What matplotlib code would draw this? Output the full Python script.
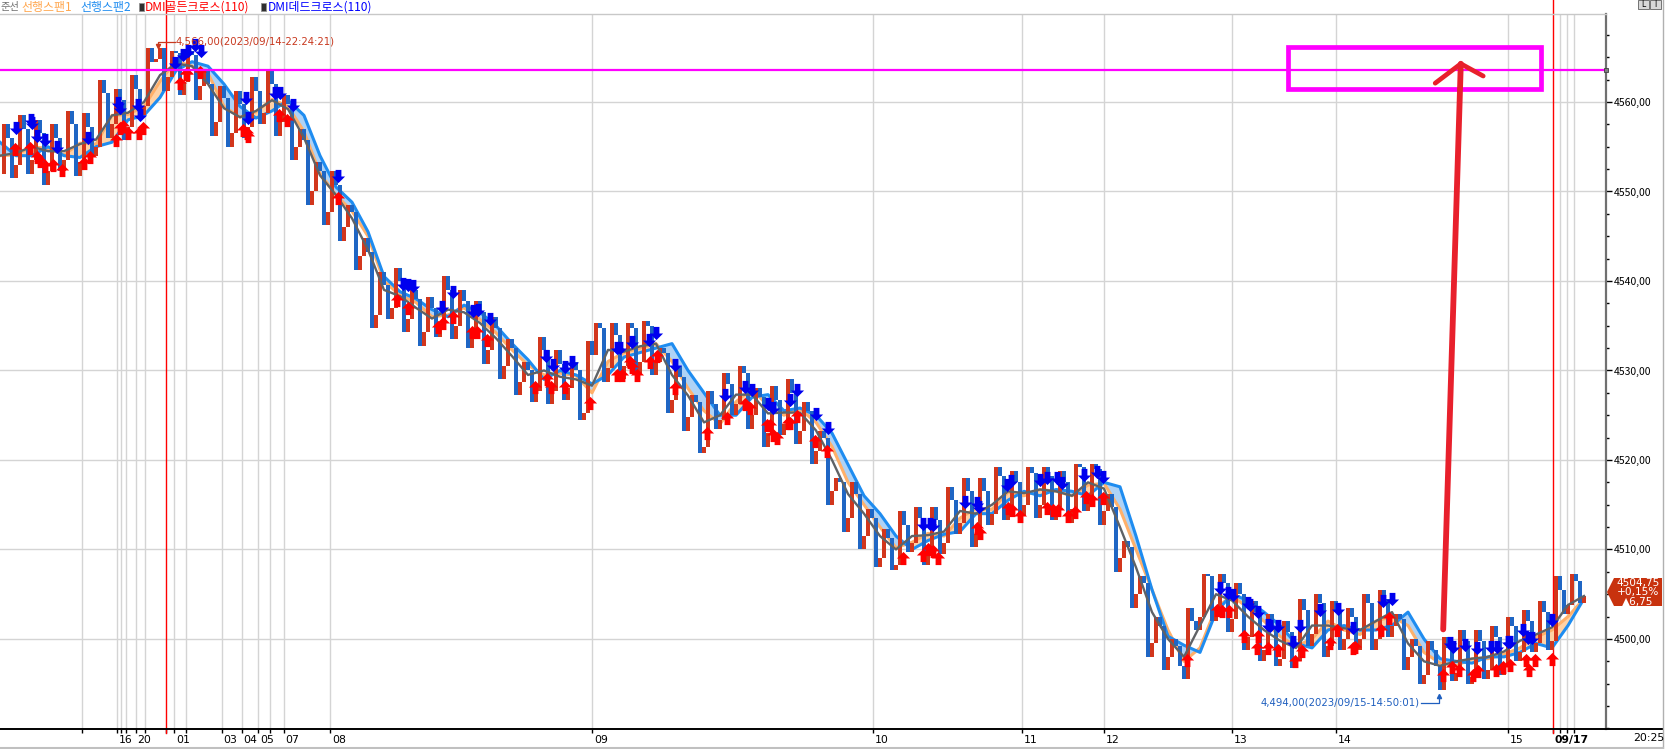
import numpy as np
import matplotlib.pyplot as plt
import matplotlib.transforms as mtransforms
from matplotlib.path import Path
from matplotlib.patches import Rectangle, Polygon
from matplotlib.lines import Line2D
from matplotlib.ticker import MultipleLocator, FuncFormatter

plt.rcParams['font.family'] = ['Noto Sans CJK KR', 'DejaVu Sans']

# closes, one bar every 8 px of the original screen
close = [
    4552.0, 4556.0, 4553.0, 4557.0, 4553.5, 4556.5, 4552.25, 4556.0, 4553.5, 4557.5,
    4553.25, 4557.25, 4555.0, 4561.0, 4557.5, 4560.25, 4557.25, 4561.5, 4559.5, 4564.5,
    4566.0, 4562.75, 4565.5, 4562.25, 4565.25, 4561.75, 4562.0, 4557.75, 4560.5, 4556.5,
    4559.75, 4557.25, 4561.25, 4558.75, 4562.0, 4557.75, 4559.75, 4555.0, 4555.75, 4550.0,
    4552.25, 4547.75, 4550.75, 4546.0, 4547.75, 4542.75, 4543.25, 4536.25, 4539.5, 4537.0,
    4540.0, 4535.75, 4538.0, 4534.25, 4537.0, 4534.75, 4539.0, 4535.0, 4537.75, 4534.0,
    4536.5, 4532.25, 4534.75, 4530.5, 4532.5, 4528.75, 4530.0, 4527.75, 4532.25, 4527.75,
    4530.75, 4528.0, 4530.0, 4525.25, 4531.75, 4534.75, 4530.25, 4534.0, 4530.5, 4534.75,
    4531.0, 4535.0, 4531.0, 4532.0, 4526.75, 4529.25, 4524.75, 4526.5, 4521.5, 4526.25,
    4524.5, 4528.5, 4526.25, 4529.75, 4525.0, 4527.0, 4523.0, 4526.75, 4524.0, 4527.5,
    4523.25, 4525.5, 4521.0, 4522.5, 4516.5, 4517.5, 4513.5, 4516.25, 4511.5, 4513.5,
    4509.0, 4511.25, 4508.25, 4512.75, 4510.75, 4513.5, 4509.75, 4513.25, 4510.75, 4515.5,
    4513.0, 4516.5, 4511.75, 4516.5, 4514.0, 4518.25, 4514.75, 4517.5, 4515.0, 4518.5,
    4515.0, 4518.25, 4514.75, 4517.5, 4514.5, 4519.25, 4515.75, 4519.0, 4514.25, 4514.75,
    4509.0, 4510.25, 4505.0, 4506.25, 4499.5, 4501.5, 4498.0, 4499.25, 4495.5, 4502.0,
    4502.5, 4507.0, 4503.5, 4506.25, 4502.25, 4505.0, 4500.25, 4503.0, 4498.75, 4501.5,
    4497.75, 4500.75, 4497.5, 4503.25, 4500.5, 4504.0, 4499.25, 4503.0, 4500.0, 4502.5,
    4500.0, 4504.0, 4500.0, 4504.5, 4501.5, 4502.25, 4498.0, 4499.25, 4496.0, 4498.75,
    4494.25, 4499.0, 4496.25, 4499.75, 4495.75, 4499.75, 4496.5, 4500.25, 4497.0, 4501.5,
    4498.5, 4502.0, 4499.5, 4503.0, 4499.75, 4505.5, 4503.75, 4506.5, 4504.75,
]
# closes of the bars that fall between the ones above (4 px later)
close_mid = [
    4557.5, 4551.5, 4558.5, 4552.0, 4558.0, 4550.75, 4557.5, 4552.25, 4559.0, 4551.75,
    4558.75, 4554.0, 4562.5, 4556.0, 4561.5, 4555.75, 4563.0, 4558.5, 4566.0, 4564.75,
    4561.25, 4565.75, 4560.75, 4565.75, 4560.25, 4563.5, 4556.25, 4561.75, 4555.0, 4561.25,
    4556.0, 4562.75, 4557.5, 4563.5, 4556.25, 4560.75, 4553.5, 4557.0, 4548.5, 4553.25,
    4546.25, 4552.25, 4544.5, 4548.5, 4541.25, 4544.75, 4534.75, 4541.0, 4535.75, 4541.5,
    4534.25, 4539.0, 4532.75, 4538.25, 4533.75, 4540.5, 4533.5, 4539.0, 4532.5, 4537.75,
    4530.75, 4536.0, 4529.0, 4533.5, 4527.25, 4531.0, 4526.5, 4533.75, 4526.25, 4532.25,
    4526.75, 4531.0, 4524.5, 4533.25, 4535.25, 4528.75, 4535.25, 4529.0, 4535.25, 4529.5,
    4535.5, 4529.5, 4532.5, 4525.25, 4530.5, 4523.25, 4527.25, 4520.75, 4527.75, 4523.5,
    4529.75, 4525.0, 4530.5, 4523.5, 4528.0, 4521.5, 4528.25, 4522.75, 4529.0, 4521.75,
    4526.5, 4519.5, 4523.25, 4515.0, 4518.0, 4512.0, 4517.5, 4510.0, 4514.5, 4508.0,
    4512.25, 4507.75, 4514.25, 4509.75, 4514.75, 4508.25, 4514.75, 4509.5, 4517.0, 4511.75,
    4518.0, 4510.25, 4518.0, 4512.75, 4519.25, 4513.25, 4518.75, 4513.75, 4519.25, 4513.5,
    4519.25, 4513.25, 4518.75, 4513.0, 4519.5, 4514.25, 4519.5, 4512.75, 4516.25, 4507.5,
    4511.0, 4503.5, 4507.0, 4498.0, 4502.5, 4496.5, 4500.0, 4497.0, 4503.5, 4501.0,
    4507.25, 4502.0, 4507.25, 4500.75, 4506.25, 4498.75, 4504.25, 4497.5, 4502.75, 4497.0,
    4502.0, 4496.75, 4504.5, 4499.25, 4505.0, 4498.0, 4504.25, 4498.75, 4503.5, 4498.75,
    4505.0, 4498.75, 4505.5, 4500.25, 4502.75, 4496.5, 4500.0, 4495.0, 4499.75, 4497.0,
    4500.25, 4495.25, 4501.0, 4495.0, 4501.0, 4495.5, 4501.5, 4496.0, 4502.5, 4497.5,
    4503.25, 4498.5, 4504.25, 4498.75, 4507.0, 4502.75, 4507.25, 4504.0,
]

# indicator lines, one value every 2 bars
base_line = [
    4554.0, 4554.3, 4555.0, 4554.5, 4554.5, 4555.3, 4555.8, 4558.5, 4558.8, 4560.0,
    4563.0, 4564.3, 4564.0, 4562.0, 4559.3, 4558.3, 4559.0, 4560.2, 4559.2, 4556.0,
    4551.8, 4549.6, 4547.0, 4543.5, 4539.0, 4538.3, 4537.0, 4535.8, 4536.8, 4536.5,
    4535.3, 4533.6, 4531.6, 4529.5, 4530.0, 4529.3, 4529.0, 4528.3, 4532.3, 4532.1,
    4532.7, 4533.0, 4529.5, 4527.2, 4524.2, 4525.0, 4527.3, 4527.3, 4525.2, 4525.3,
    4525.3, 4523.3, 4520.0, 4516.2, 4514.0, 4511.5, 4510.0, 4511.5, 4511.6, 4512.0,
    4514.3, 4514.0, 4515.0, 4516.5, 4516.3, 4516.7, 4516.5, 4516.0, 4517.5, 4516.8,
    4512.5, 4508.0, 4503.0, 4500.0, 4498.0, 4501.5, 4505.0, 4504.3, 4502.5, 4501.0,
    4499.8, 4499.0, 4501.5, 4501.5, 4501.2, 4501.0, 4502.0, 4503.0, 4499.5, 4497.5,
    4497.0, 4497.5, 4497.8, 4498.0, 4498.6, 4499.8, 4500.5, 4501.3, 4503.8, 4504.8,
]
span1 = [
    4554.0, 4554.1, 4555.0, 4554.8, 4554.1, 4555.4, 4555.3, 4558.5, 4558.6, 4559.5,
    4562.3, 4564.6, 4564.0, 4563.2, 4559.5, 4558.3, 4558.9, 4560.3, 4559.5, 4556.7,
    4552.0, 4549.6, 4547.8, 4545.0, 4540.0, 4538.4, 4537.6, 4536.0, 4536.2, 4537.0,
    4535.7, 4534.2, 4532.3, 4530.6, 4529.5, 4529.7, 4529.4, 4527.5, 4531.0, 4532.0,
    4532.5, 4533.0, 4531.0, 4528.0, 4525.5, 4524.0, 4526.5, 4528.0, 4526.0, 4525.0,
    4525.7, 4524.2, 4521.5, 4517.5, 4515.0, 4512.5, 4510.2, 4510.8, 4511.8, 4511.5,
    4513.5, 4514.6, 4514.5, 4516.4, 4516.0, 4516.7, 4516.5, 4516.0, 4517.2, 4517.4,
    4514.5, 4510.0, 4505.5, 4501.0, 4497.5, 4499.0, 4503.5, 4504.8, 4503.5, 4502.0,
    4500.3, 4499.2, 4500.0, 4502.0, 4501.0, 4500.5, 4502.0, 4502.5, 4501.5, 4498.5,
    4497.3, 4497.0, 4497.8, 4497.8, 4498.3, 4499.0, 4500.2, 4501.0, 4502.5, 4504.5,
]
span2 = [
    4555.5, 4554.0, 4554.0, 4555.0, 4554.0, 4553.8, 4555.0, 4555.5, 4558.0, 4558.5,
    4560.5, 4563.5, 4564.5, 4564.0, 4562.0, 4559.5, 4558.2, 4559.0, 4560.2, 4558.5,
    4554.0, 4550.5, 4548.8, 4545.5, 4540.5, 4538.8, 4538.0, 4536.8, 4536.0, 4537.3,
    4536.5, 4535.0, 4533.0, 4531.2, 4529.0, 4530.0, 4529.5, 4528.5, 4529.5, 4531.5,
    4532.0, 4532.5, 4533.0, 4530.0, 4527.5, 4525.0, 4525.0, 4527.0, 4527.3, 4525.5,
    4525.8, 4525.0, 4523.0, 4519.5, 4516.0, 4514.0, 4511.5, 4510.0, 4511.0, 4511.7,
    4512.0, 4514.0, 4514.0, 4515.5, 4516.5, 4516.0, 4516.7, 4516.5, 4516.0, 4517.5,
    4517.0, 4511.5, 4505.5, 4500.3, 4499.3, 4498.5, 4503.0, 4505.0, 4504.3, 4503.0,
    4501.5, 4499.5, 4499.0, 4501.0, 4501.5, 4501.0, 4501.0, 4501.5, 4503.0, 4500.0,
    4497.8, 4497.5, 4497.3, 4498.0, 4498.0, 4498.5, 4499.5, 4499.0, 4501.5, 4504.5,
]

# DMI golden cross (red up arrows) and dead cross (blue down arrows)
gold_bar = [
    1.9, 3.75, 4.6, 5.0, 5.6, 6.6, 7.75, 10.5, 11.25, 14.5, 15.0, 15.4, 16.0, 17.4, 17.9,
    22.5, 23.25, 23.4, 25.0, 30.4, 30.9, 31.0, 34.9, 35.9, 42.25, 49.6, 51.0,
    54.75, 55.4, 56.6, 59.0, 59.6, 60.9, 66.9, 68.4, 68.9, 70.6, 73.75, 77.1, 77.75, 78.75,
    79.0, 79.6, 81.25, 82.1, 84.4, 88.4, 90.9, 93.1, 93.75, 95.9, 96.25, 96.6, 97.1, 98.5,
    98.75, 99.6, 101.9, 103.4,
    112.9, 115.4, 116.0, 116.6, 117.25, 122.1, 122.5, 126.0, 126.5, 127.5, 130.9, 131.6,
    132.25, 133.5, 134.4, 135.75, 136.5, 137.9, 148.4, 152.1, 152.75, 153.6, 155.5, 157.1,
    157.25, 158.5, 159.75, 161.9, 162.75, 166.25, 167.1, 169.1, 169.4, 172.6, 173.6, 180.4,
    181.5, 182.4, 184.1, 184.75, 187.0, 187.9, 188.75, 190.75, 191.1, 191.9, 194.0,
]
gold_price = [
    4554.7, 4554.9, 4553.9, 4553.4, 4552.8, 4553.0, 4552.4, 4553.2, 4553.9, 4555.8, 4557.1, 4557.3, 4556.5, 4556.5, 4557.1,
    4562.1, 4563.1, 4563.1, 4563.3, 4556.9, 4556.5, 4556.2, 4558.6, 4558.0, 4549.3, 4537.9, 4537.0,
    4534.9, 4535.3, 4536.0, 4534.3, 4534.3, 4533.4, 4528.2, 4529.1, 4528.2, 4528.2, 4526.4, 4529.5, 4529.5, 4531.0,
    4530.4, 4529.5, 4531.0, 4531.6, 4528.0, 4523.0, 4524.7, 4526.2, 4525.8, 4523.9, 4523.9, 4522.8, 4522.5, 4524.1,
    4524.1, 4524.9, 4522.1, 4521.0,
    4509.0, 4509.4, 4510.1, 4509.8, 4509.0, 4512.4, 4511.8, 4514.6, 4514.4, 4513.7, 4514.6, 4514.4,
    4514.4, 4513.7, 4514.2, 4515.9, 4515.5, 4515.7, 4497.7, 4503.2, 4503.1, 4503.1, 4500.3, 4499.0,
    4500.3, 4499.0, 4498.8, 4497.5, 4498.6, 4499.5, 4501.0, 4499.0, 4499.1, 4501.0, 4502.3, 4496.0,
    4496.9, 4496.5, 4496.0, 4496.4, 4496.5, 4496.9, 4497.1, 4497.7, 4496.5, 4497.7, 4497.8,
]
dead_bar = [
    2.0, 3.9, 4.0, 4.6, 5.6, 7.1, 11.0, 14.75, 15.0, 17.25, 17.5, 21.9, 22.9, 23.5, 24.4,
    25.1, 30.75, 31.0, 34.4, 35.0, 36.6, 42.25, 50.4, 51.0, 51.6,
    55.25, 56.6, 59.1, 59.75, 61.25, 68.25, 69.1, 70.6, 71.5, 77.1, 77.5, 79.0, 81.1, 82.0,
    84.4, 90.6, 93.1, 94.0, 96.0, 96.6, 98.75, 99.6, 102.0, 103.5,
    115.4, 116.25, 116.6, 120.6, 122.1, 122.4, 125.9, 126.4, 130.0, 130.9, 132.1, 132.75,
    135.5, 137.1, 137.9, 152.5, 153.5, 154.1, 156.0,
    156.25, 157.25, 158.5, 158.75, 159.75, 161.6, 162.5, 165.0, 167.25, 169.1, 172.9, 174.0,
    181.25, 181.6, 183.1, 184.6, 186.4, 187.1, 188.5, 188.75, 190.4, 191.0, 191.5, 194.0,
]
dead_price = [
    4557.1, 4558.0, 4557.7, 4556.2, 4555.8, 4555.0, 4556.0, 4559.9, 4559.3, 4559.7, 4558.6, 4564.4, 4565.3, 4565.7, 4566.4,
    4565.7, 4560.4, 4558.2, 4561.0, 4561.0, 4559.7, 4551.7, 4539.7, 4539.5, 4539.4,
    4537.1, 4538.8, 4536.6, 4536.8, 4535.7, 4531.6, 4530.6, 4530.4, 4531.0, 4532.5, 4532.5, 4533.2, 4533.4, 4534.2,
    4530.6, 4527.3, 4528.2, 4527.8, 4526.2, 4525.8, 4526.7, 4527.8, 4525.1, 4523.6,
    4512.9, 4512.9, 4512.7, 4515.3, 4515.2, 4514.8, 4517.2, 4517.6, 4517.8, 4518.0, 4518.0, 4517.4,
    4518.3, 4518.7, 4518.1, 4505.7, 4505.1, 4504.9, 4504.0,
    4503.8, 4503.0, 4501.6, 4501.4, 4501.4, 4499.7, 4501.4, 4503.2, 4503.4, 4501.2, 4504.2, 4504.5,
    4499.5, 4499.1, 4499.3, 4499.0, 4499.1, 4499.1, 4499.7, 4499.7, 4501.0, 4500.1, 4500.1, 4502.1,
]

# time axis (bar numbers where the session / day markers fall)
tick_bar = [10.25, 14.6, 15.1, 15.75, 16.95, 18.1, 20.8, 21.8, 23.25, 27.75, 30.2, 32.3,
            33.8, 35.5, 41.3, 74.05, 109.15, 127.8, 138.0, 154.0, 167.0, 188.5, 194.1,
            195.05, 195.85, 196.75]
tick_lbl = ['', '16', '', '', '20', '', '', '01', '', '03', '04', '05',
            '', '07', '08', '09', '10', '11', '12', '13', '14', '15', '09/17',
            '', '', '']
red_bar = [20.8, 194.1]

hi_text = '4,566,00(2023/09/14-22:24:21)'
lo_text = '4,494,00(2023/09/15-14:50:01)'
level_line = 4563.6
tag_lines = ['4504,75', '+0,15%', '▲6,75']

W, H = 1667, 749
UP, DN = '#d2361c', '#1f66c4'

fig = plt.figure(figsize=(W / 100, H / 100), dpi=100)
ax = fig.add_axes([0, 20 / H, 1606 / W, 715 / H])
ax.set_xlim(0, 200.75)
ax.set_ylim(4489.94, 4569.83)


def fp(x, y):
    return x / W, 1 - y / H


# grid
for b in tick_bar:
    if b not in red_bar:
        ax.axvline(b, color='#d4d4d4', lw=1, zorder=0)
for b in red_bar:
    ax.axvline(b, color='#ff0000', lw=1, zorder=1, ymin=-0.006, ymax=1.0196, clip_on=False)
ax.set_yticks(np.arange(4500, 4561, 10))
ax.yaxis.set_minor_locator(MultipleLocator(2.5))
ax.grid(axis='y', which='major', color='#d4d4d4', lw=1, zorder=0)
ax.set_axisbelow(True)

# cloud
xs = np.arange(len(span1)) * 2
s1, s2 = np.array(span1), np.array(span2)
ax.fill_between(xs, s1, s2, where=s1 >= s2, interpolate=True, color='#ffd2a6', lw=0, zorder=1)
ax.fill_between(xs, s1, s2, where=s1 < s2, interpolate=True, color='#aed2f6', lw=0, zorder=1)
ax.plot(xs, s1, color='#ffb06a', lw=2.2, zorder=2)
ax.plot(xs, s2, color='#1e8cf0', lw=2.2, zorder=2)

# candles: interleave the two close lists, open = previous close
c = np.empty(len(close) + len(close_mid))
c[0::2] = close
c[1::2] = close_mid
o = np.r_[c[0], c[:-1]]
pos = np.arange(len(c)) * 0.5
rise = c >= o
ax.bar(pos[rise], (c - o)[rise], bottom=o[rise], width=0.38, color=UP, lw=0, zorder=3)
ax.bar(pos[~rise], (c - o)[~rise], bottom=o[~rise], width=0.38, color=DN, lw=0, zorder=3)
ax.plot(np.arange(len(base_line)) * 2, base_line, color='#5f6266', lw=1.7, zorder=4)

# DMI arrows
up_arrow = Path([(-0.22, -0.5), (0.22, -0.5), (0.22, 0.0), (0.5, 0.0), (0.0, 0.5),
                 (-0.5, 0.0), (-0.22, 0.0), (-0.22, -0.5)], closed=True)
dn_arrow = Path([(-0.22, 0.5), (0.22, 0.5), (0.22, 0.0), (0.5, 0.0), (0.0, -0.5),
                 (-0.5, 0.0), (-0.22, 0.0), (-0.22, 0.5)], closed=True)
ax.plot(gold_bar, gold_price, ls='none', marker=up_arrow, ms=9.5, mfc='#ff0000', mec='#ff0000', mew=0, zorder=5)
ax.plot(dead_bar, dead_price, ls='none', marker=dn_arrow, ms=9.5, mfc='#0000ee', mec='#0000ee', mew=0, zorder=5)

# level line and drawings
ax.axhline(level_line, color='#ff00ff', lw=1.6, zorder=6)
ax.plot([200.75], [level_line], marker='s', ms=3.5, mfc='#808080', mec='#404040', mew=0.6, clip_on=False, zorder=7)
ax.add_patch(Rectangle((161.0, 4561.5), 31.6, 4.6, fill=False, ec='#ff00ff', lw=3.4, zorder=7))
ax.plot([180.4, 182.6], [4501.07, 4564.27], color='#e8202c', lw=4.2, solid_capstyle='round', zorder=7)
ax.plot([179.4, 182.6, 185.4], [4562.1, 4564.27, 4562.9], color='#e8202c', lw=3.4,
        solid_capstyle='round', solid_joinstyle='miter', zorder=7)

# high / low labels
ax.text(22.0, 4566.74, hi_text, color='#c8381e', fontsize=7.3, va='center', ha='left', family='DejaVu Sans', zorder=8)
ax.plot([21.9, 19.75, 19.75], [4566.74, 4566.74, 4566.3], color='#c8381e', lw=0.9, zorder=8)
ax.plot([19.75], [4566.3], marker='v', ms=3, color='#c8381e', zorder=8)
ax.text(177.5, 4492.85, lo_text, color='#1f5fbf', fontsize=7.3, va='center', ha='right', family='DejaVu Sans', zorder=8)
ax.plot([177.6, 179.9, 179.9], [4492.85, 4492.85, 4493.6], color='#1f5fbf', lw=0.9, zorder=8)
ax.plot([179.9], [4493.6], marker='^', ms=3, color='#1f5fbf', zorder=8)

# axes styling
for s in ['top', 'left']:
    ax.spines[s].set_visible(False)
ax.spines['right'].set_color('#707070')
ax.spines['right'].set_linewidth(1.6)
ax.spines['bottom'].set_color('black')
ax.spines['bottom'].set_linewidth(1.4)
ax.yaxis.tick_right()
ax.yaxis.set_major_formatter(FuncFormatter(lambda v, _: f'{v:.2f}'.replace('.', ',')))
ax.tick_params(axis='y', which='major', length=4, width=1, pad=1.5, labelsize=7.5, colors='black')
ax.tick_params(axis='y', which='minor', length=2.5, width=1, colors='black')
ax.set_xticks(tick_bar)
ax.set_xticklabels(tick_lbl, ha='left', family='DejaVu Sans')
ax.tick_params(axis='x', length=3, width=1, pad=1, labelsize=7.8, colors='black')
shift = mtransforms.ScaledTranslation(1.2 / 72, 0, fig.dpi_scale_trans)
for lab in ax.get_xticklabels():
    lab.set_transform(lab.get_transform() + shift)
    if lab.get_text() == '09/17':
        lab.set_fontweight('bold')

# frame pieces outside the plot
fig.add_artist(Line2D([0, 1606 / W], [1 - 13.5 / H] * 2, color='#c8c8c8', lw=1))
fig.add_artist(Line2D([1606 / W, 1663 / W], [1 - 729 / H] * 2, color='black', lw=1.4))
fig.add_artist(Line2D([1663 / W] * 2, [0, 1], color='#b0b0b0', lw=1))
fig.add_artist(Line2D([0, 1663 / W], [1 - 748 / H] * 2, color='#c0c0c0', lw=1.5))
fig.text(*fp(1633, 738), '20:25', fontsize=7.8, va='center', ha='left', family='DejaVu Sans')

# last price tag
tag = Polygon([fp(1607, 592), fp(1614, 578), fp(1662, 578), fp(1662, 606), fp(1614, 606)],
              closed=True, transform=fig.transFigure, fc='#c8320e', ec='none')
fig.add_artist(tag)
for k, t in enumerate(tag_lines):
    fig.text(*fp(1638, 583 + k * 9.3), t, color='white', fontsize=7.6, ha='center', va='center',
             family=['DejaVu Sans'])

# legend row
legend = [('준선', '#707070', 0.5, 7.4), ('선행스팬1', '#ffa64d', 21, 8.6), ('선행스팬2', '#1e8cf0', 80, 8.6),
          ('DMI골든크로스(110)', '#ff0000', 145, 8.6), ('DMI데드크로스(110)', '#0000ff', 268, 8.6)]
for name, col, x0, fs in legend:
    fig.text(*fp(x0, 7), name, color=col, fontsize=fs, va='center', ha='left')
for x0 in [139, 261]:
    fig.add_artist(Rectangle(fp(x0, 10.5), 4.5 / W, 7 / H, transform=fig.transFigure,
                             fc='#303030', ec='#909090', lw=0.6))

# small buttons top right
for x0, t in [(1638, 'L'), (1650, 'I')]:
    fig.add_artist(Rectangle(fp(x0, 9), 11 / W, 8.5 / H, transform=fig.transFigure,
                             fc='#d8d8d8', ec='#606060', lw=0.6))
    fig.text(*fp(x0 + 5.5, 4.8), t, fontsize=5.5, ha='center', va='center', family='DejaVu Sans')

fig.savefig('out.png', dpi=100)
